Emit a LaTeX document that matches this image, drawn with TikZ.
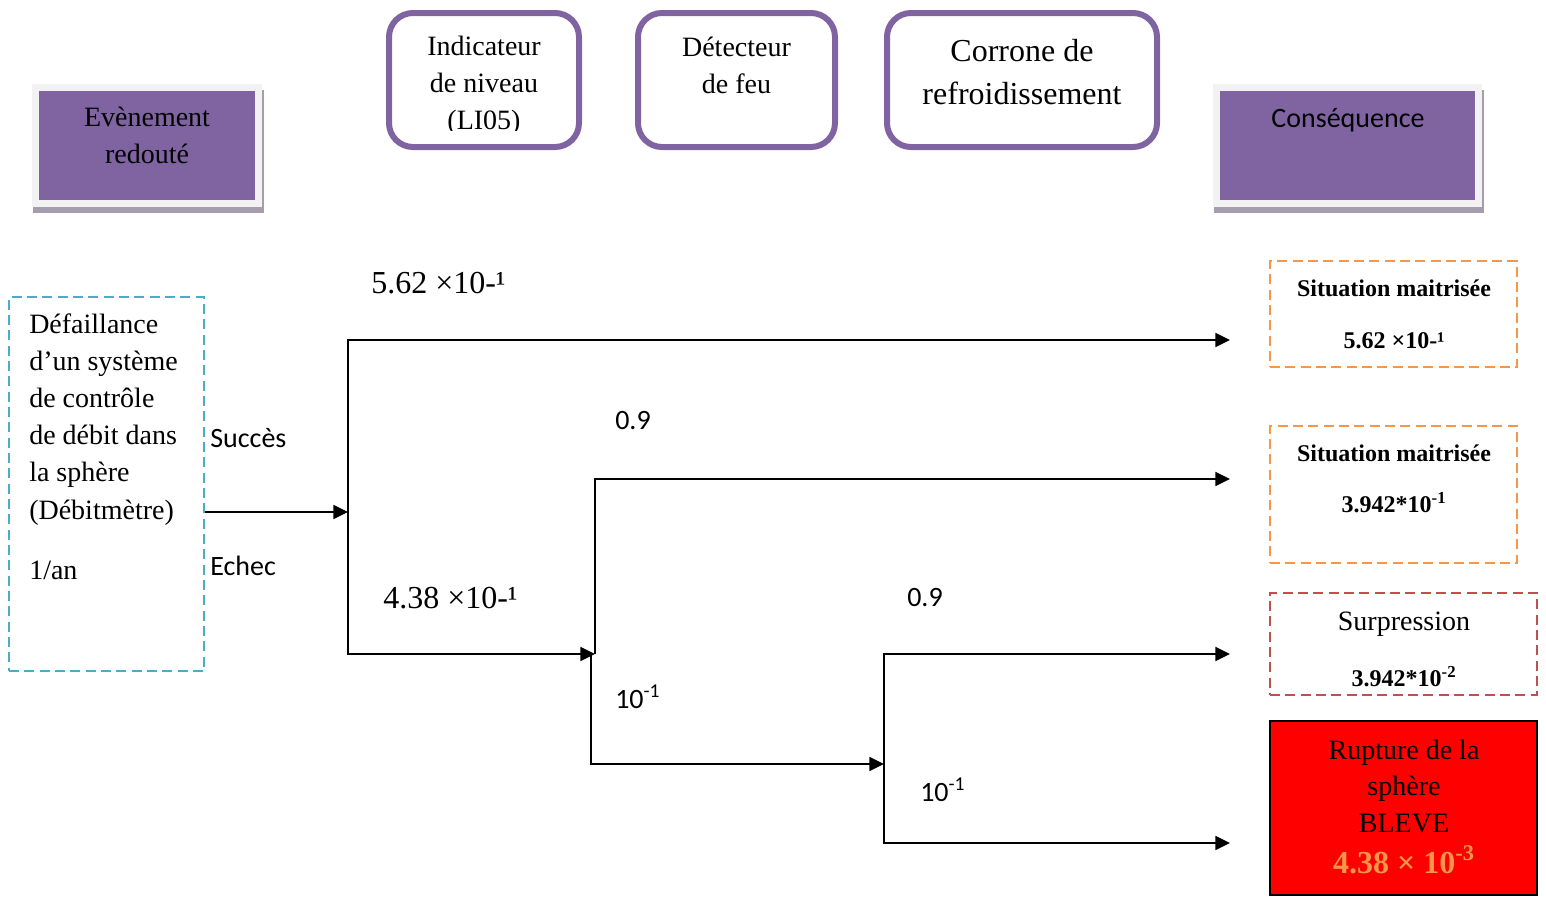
\documentclass[tikz,border=0pt]{standalone}
\usepackage{fontspec}
\setmainfont{Liberation Serif}
\newfontfamily\calibri{Carlito}
\usetikzlibrary{arrows.meta,backgrounds}

\definecolor{evpurple}{HTML}{8064A2}
\definecolor{framegray}{HTML}{F2F2F2}
\definecolor{shadowgray}{HTML}{A59DAE}
\definecolor{initcyan}{HTML}{4BACC6}
\definecolor{okorange}{HTML}{F79646}
\definecolor{surpred}{HTML}{C0504D}
\definecolor{bleve}{HTML}{FF0000}

% stacked lines whose baseline is the first line
\newcommand{\centredlines}[1]{\begin{tabular}[t]{@{}c@{}}#1\end{tabular}}
\newcommand{\leftlines}[1]{\begin{tabular}[t]{@{}l@{}}#1\end{tabular}}

\begin{document}
\begin{tikzpicture}[x=0.75pt,y=-0.75pt,
  headbox/.style={draw=framegray, fill=evpurple, line width=5.25pt, inner sep=0pt, minimum height=87pt},
  barrier/.style={draw=evpurple, line width=4.5pt, rounded corners=18pt, inner sep=0pt, minimum height=100.5pt},
  initbox/.style={draw=initcyan, line width=1.5pt, dash pattern=on 7.5pt off 4pt, inner sep=0pt},
  okbox/.style={draw=okorange, line width=1.5pt, dash pattern=on 7.5pt off 4pt, inner sep=0pt},
  surpbox/.style={draw=surpred, line width=1.5pt, dash pattern=on 7.5pt off 4pt, inner sep=0pt},
  blevebox/.style={draw=black, fill=bleve, line width=1.5pt, inner sep=0pt},
  txt/.style={inner sep=0pt, font=\fontsize{21}{27.9}\selectfont},
  bigtxt/.style={inner sep=0pt, font=\fontsize{24}{32.25}\selectfont},
  sanstxt/.style={inner sep=0pt, font=\calibri\fontsize{21}{26}\selectfont},
  boldtxt/.style={inner sep=0pt, font=\bfseries\fontsize{18}{22}\selectfont},
  flow/.style={line width=1.3pt, -{Triangle[length=11pt,width=10.5pt]}}
]
\useasboundingbox (0,0) rectangle (1546,897);

% column headers
\node[headbox, minimum width=166.875pt] (evh) at (146.75,145) {};
\node[headbox, minimum width=196.5pt] (csh) at (1347.5,145) {};
\begin{scope}[on background layer]
  \fill[shadowgray] ([shift={(1,6)}]evh.south west) rectangle ([shift={(2,6)}]evh.north east);
  \fill[shadowgray] ([shift={(1,6)}]csh.south west) rectangle ([shift={(2,6)}]csh.north east);
\end{scope}
\node[txt, anchor=base] (evt) at (147,126) {\centredlines{Evènement\\redouté}};
\node[sanstxt, anchor=base] (cst) at (1348,127) {Conséquence};

% safety barriers
\node[barrier, minimum width=142.5pt] (b1) at (484,80) {};
\node[barrier, minimum width=147.75pt] (b2) at (736.5,80) {};
\node[barrier, minimum width=202.5pt] (b3) at (1022,80) {};
\begin{scope}
  \clip (390,14) rectangle (578,130.5);
  \node[txt, anchor=base, font=\fontsize{21}{27.75}\selectfont] (b1t) at (484,55.5) {\centredlines{Indicateur\\de niveau\\(LI05)}};
\end{scope}
\node[txt, anchor=base, font=\fontsize{21}{27.75}\selectfont] (b2t) at (736.5,56) {\centredlines{Détecteur\\de feu}};
\node[bigtxt, anchor=base] (b3t) at (1022,61) {\centredlines{Corrone de\\refroidissement}};

% initiating event
\node[initbox, minimum width=146.25pt, minimum height=280.5pt] (init) at (106.5,484) {};
\node[txt, anchor=base west] (initt) at (29,333) {\leftlines{Défaillance\\d’un système\\de contrôle\\de débit dans\\la sphère\\(Débitmètre)}};
\node[txt, anchor=base west] (freq) at (29,579) {1/an};
\node[sanstxt, anchor=base west] (succ) at (210,447) {Succès};
\node[sanstxt, anchor=base west] (fail) at (210,575) {Echec};

% branch probabilities
\node[bigtxt, anchor=base west] (p1) at (371,293) {5.62 ×10-¹};
\node[bigtxt, anchor=base west] (p2) at (383,608) {4.38 ×10-¹};
\node[sanstxt, anchor=base west] (q1) at (615,429) {0.9};
\node[sanstxt, anchor=base west] (q2) at (615,708) {10\textsuperscript{-1}};
\node[sanstxt, anchor=base west] (q3) at (907,606) {0.9};
\node[sanstxt, anchor=base west] (q4) at (920,801) {10\textsuperscript{-1}};

% consequences
\node[okbox, minimum width=185.25pt, minimum height=79.5pt] (c1) at (1393.5,314) {};
\node[boldtxt, anchor=base] (c1a) at (1394,296) {Situation maitrisée};
\node[boldtxt, anchor=base] (c1b) at (1394,348) {5.62 ×10-¹};

\node[okbox, minimum width=185.25pt, minimum height=102.75pt] (c2) at (1393.5,494.5) {};
\node[boldtxt, anchor=base] (c2a) at (1394,461) {Situation maitrisée};
\node[boldtxt, anchor=base] (c2b) at (1394,512) {3.942*10\textsuperscript{-1}};

\node[surpbox, minimum width=200.25pt, minimum height=76.5pt] (c3) at (1403.5,644) {};
\node[txt, anchor=base] (c3a) at (1404,630) {Surpression};
\node[boldtxt, anchor=base] (c3b) at (1404,686) {3.942*10\textsuperscript{-2}};

\node[blevebox, minimum width=200.25pt, minimum height=130.5pt] (c4) at (1403.5,808) {};
\node[txt, anchor=base, font=\fontsize{21}{27.4}\selectfont] (c4a) at (1404,759) {\centredlines{Rupture de la\\sphère\\BLEVE}};
\node[bigtxt, anchor=base, font=\bfseries\fontsize{24}{28}\selectfont, text=okorange] (c4b) at (1404,873) {4.38 × 10\textsuperscript{-3}};

% event tree
\coordinate (j1) at (348,512);
\coordinate (j2) at (595,654);
\coordinate (j2low) at (591,654);
\coordinate (j3) at (884,764);
\coordinate (o1) at (1230,340);
\coordinate (o2) at (1230,479);
\coordinate (o3) at (1230,654);
\coordinate (o4) at (1230,843);

\draw[flow] (init.east |- j1) -- (j1);
\draw[flow] (j1) |- (o1);
\draw[flow] (j1) |- (j2);
\draw[flow] (j2) |- (o2);
\draw[flow] (j2low) |- (j3);
\draw[flow] (j3) |- (o3);
\draw[flow] (j3) |- (o4);
\end{tikzpicture}
\end{document}
